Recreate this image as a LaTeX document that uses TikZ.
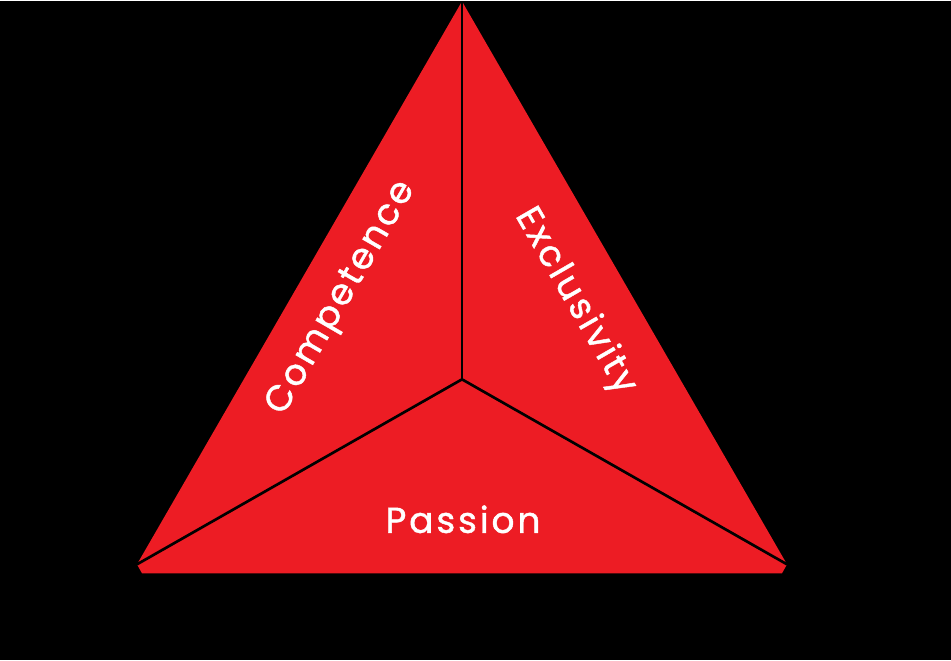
\documentclass[tikz,border=0pt]{standalone}
\usepackage{fontspec}
\setmainfont{Poppins}[LetterSpace=8,FakeBold=1.2]
\definecolor{brandred}{HTML}{ED1C24}
\begin{document}
\begin{tikzpicture}[x=0.75pt,y=-0.75pt,
    facetext/.style={text=white,font=\fontsize{27}{30}\selectfont},
    divider/.style={black,line width=2pt}]
  \fill [black] (0,0) rectangle (951,659);
  \coordinate (apex) at (462,0);
  \coordinate (right) at (787,563);
  \coordinate (left) at (137,563);
  \coordinate (centre) at (462,378);
  \fill [brandred] (apex) -- (right) -- (782,572) -- (142,572) -- (left) -- cycle;
  \draw [divider] (centre) -- (apex);
  \draw [divider] (centre) -- (left);
  \draw [divider] (centre) -- (right);
  \node [facetext, rotate=60] (competence) at (342,297) {Competence};
  \node [facetext, rotate=-60] (exclusivity) at (575,300) {Exclusivity};
  \node [facetext] (passion) at (463,518) {Passion};
\end{tikzpicture}
\end{document}
